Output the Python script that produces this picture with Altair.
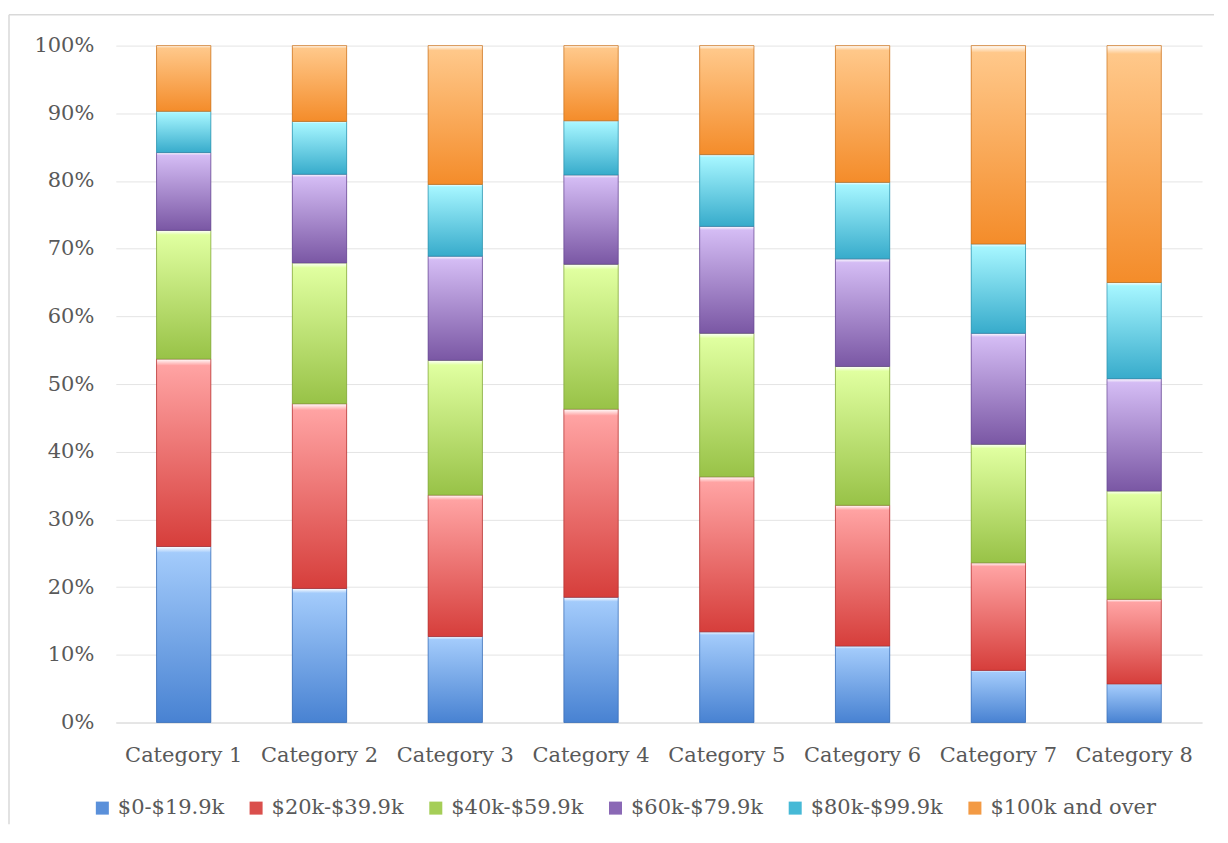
import altair as alt
import pandas as pd

categories = ["Category 1", "Category 2", "Category 3", "Category 4",
              "Category 5", "Category 6", "Category 7", "Category 8"]
series = ["$0-$19.9k", "$20k-$39.9k", "$40k-$59.9k", "$60k-$79.9k",
          "$80k-$99.9k", "$100k and over"]

v_0_20 = [26.0, 19.8, 12.7, 18.5, 13.4, 11.3, 7.7, 5.7]
v_20_40 = [27.7, 27.3, 20.9, 27.8, 22.9, 20.8, 15.9, 12.5]
v_40_60 = [19.0, 20.8, 19.9, 21.4, 21.2, 20.5, 17.5, 16.0]
v_60_80 = [11.5, 13.1, 15.4, 13.2, 15.8, 15.9, 16.4, 16.6]
v_80_100 = [6.1, 7.8, 10.6, 8.0, 10.6, 11.3, 13.2, 14.2]
v_100 = [9.7, 11.2, 20.5, 11.1, 16.1, 20.2, 29.3, 35.0]

values = [v_0_20, v_20_40, v_40_60, v_60_80, v_80_100, v_100]

# gradient colours (top, bottom), stroke, legend colour
top_colors = ["#A3CBFB", "#FFA3A3", "#E0FFA0", "#D4BCF4", "#A6F6FF", "#FFC88A"]
bottom_colors = ["#4882D2", "#D63E3B", "#98C247", "#7A57A4", "#37ABCB", "#F48C2A"]
stroke_colors = ["#3A6DB5", "#B23230", "#7FA43A", "#654790", "#2C8FAA", "#C9721F"]
legend_colors = ["#5A90DA", "#DA4F4C", "#A5CE57", "#8A68B5", "#46B9D6", "#F39A44"]

rows = []
for si, s in enumerate(series):
    for ci, c in enumerate(categories):
        rows.append({"category": c, "series": s, "value": values[si][ci], "order": si})
df = pd.DataFrame(rows)

FONT = "DejaVu Serif"
TEXT = "#595959"

x_enc = alt.X("category:N", sort=categories,
              scale=alt.Scale(paddingInner=0.6, paddingOuter=0.3),
              axis=alt.Axis(title=None, labelAngle=0, ticks=False,
                            labelPadding=22, labelFont=FONT, labelFontSize=21,
                            labelColor=TEXT, domainColor="#D9D9D9",
                            domainWidth=1.2, grid=False))
y_enc = alt.Y("y0:Q", scale=alt.Scale(domain=[0, 1], nice=False),
              axis=alt.Axis(title=None, format=".0%",
                            values=[i / 10 for i in range(11)],
                            ticks=False, domain=False, labelPadding=22,
                            labelFont=FONT, labelFontSize=21, labelColor=TEXT,
                            gridColor="#E4E4E4", gridWidth=1))

base = alt.Chart(df).transform_stack(
    stack="value", groupby=["category"], as_=["y0", "y1"],
    offset="normalize", sort=[alt.SortField("order", order="ascending")]
)

legend_layer = base.mark_bar().encode(
    x=x_enc,
    y=y_enc,
    y2="y1:Q",
    color=alt.Color("series:N", sort=series,
                    scale=alt.Scale(domain=series, range=legend_colors),
                    legend=alt.Legend(orient="none", legendX=-24, legendY=753,
                                      direction="horizontal", columns=6,
                                      title=None, symbolType="square",
                                      symbolSize=170, symbolStrokeWidth=0,
                                      labelFont=FONT, labelFontSize=21,
                                      labelColor=TEXT, labelOffset=5,
                                      labelLimit=0,
                                      columnPadding=21, padding=0)),
)

grad_layers = []
for si, s in enumerate(series):
    grad = alt.LinearGradient(
        gradient="linear", x1=0, y1=0, x2=0, y2=1,
        stops=[alt.GradientStop(offset=0, color="#FFFFFF"),
               alt.GradientStop(offset=0.035, color=top_colors[si]),
               alt.GradientStop(offset=1, color=bottom_colors[si])])
    layer = base.transform_filter(alt.datum.series == s).mark_bar(
        fill=grad, stroke=stroke_colors[si], strokeWidth=1, strokeOpacity=0.7
    ).encode(x=x_enc, y=y_enc, y2="y1:Q")
    grad_layers.append(layer)

frame_df = pd.DataFrame({"k": [0]})
frame_left = alt.Chart(frame_df).mark_rule(color="#D9D9D9", strokeWidth=1.5).encode(
    x=alt.value(-107), y=alt.value(-31), y2=alt.value(780))
frame_top = alt.Chart(frame_df).mark_rule(color="#D9D9D9", strokeWidth=1.5).encode(
    x=alt.value(-107), x2=alt.value(1100), y=alt.value(-31))

chart = alt.layer(legend_layer, *grad_layers, frame_left, frame_top).properties(
    width=1088, height=678,
    padding={"left": 0, "top": 5, "right": 5, "bottom": 5},
).configure_view(stroke=None)

chart.save("out.html", embed_options={"renderer": "svg", "actions": False})
